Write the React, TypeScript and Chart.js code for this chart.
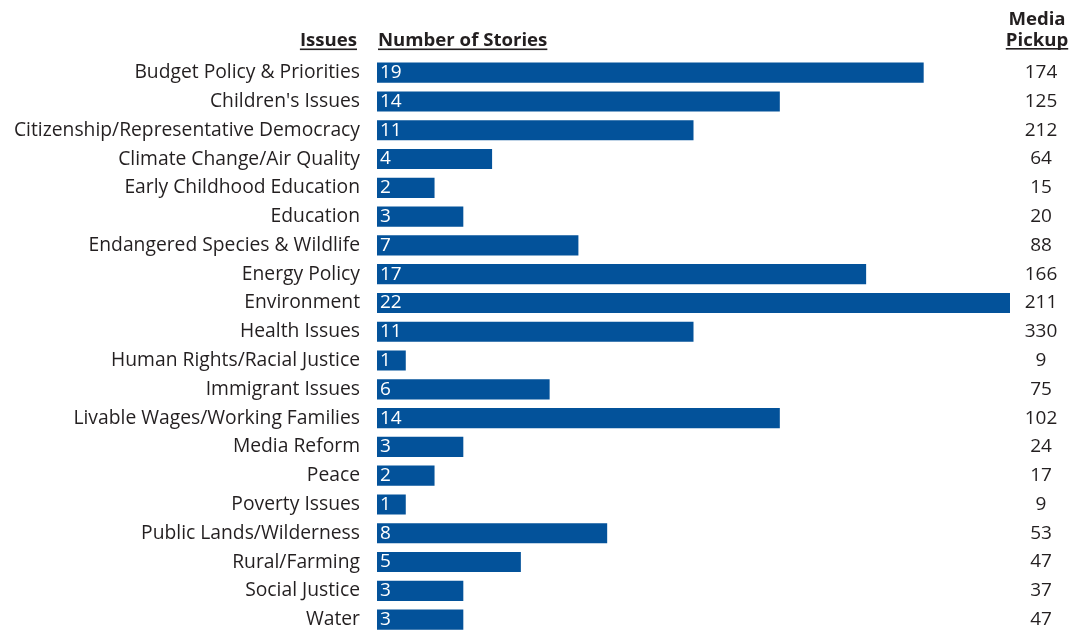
import React, { useEffect, useRef } from "react";
import { Chart, registerables } from "chart.js";

Chart.register(...registerables);

const issues = [
  "Budget Policy & Priorities",
  "Children's Issues",
  "Citizenship/Representative Democracy",
  "Climate Change/Air Quality",
  "Early Childhood Education",
  "Education",
  "Endangered Species & Wildlife",
  "Energy Policy",
  "Environment",
  "Health Issues",
  "Human Rights/Racial Justice",
  "Immigrant Issues",
  "Livable Wages/Working Families",
  "Media Reform",
  "Peace",
  "Poverty Issues",
  "Public Lands/Wilderness",
  "Rural/Farming",
  "Social Justice",
  "Water",
];
const stories = [19, 14, 11, 4, 2, 3, 7, 17, 22, 11, 1, 6, 14, 3, 2, 1, 8, 5, 3, 3];
const mediaPickup = [174, 125, 212, 64, 15, 20, 88, 166, 211, 330, 9, 75, 102, 24, 17, 9, 53, 47, 37, 47];

const FONT = "'Open Sans', 'Noto Sans', sans-serif";
const TEXT = "#231f20";
const BAR = "#03529a";

export default function App() {
  const ref = useRef<HTMLCanvasElement | null>(null);

  useEffect(() => {
    document.documentElement.style.overflow = "hidden";
    document.body.style.overflow = "hidden";
    const canvas = ref.current;
    if (!canvas) return;

    const overlay = {
      id: "overlay",
      afterDatasetsDraw(chart: any) {
        const ctx = chart.ctx;
        const meta = chart.getDatasetMeta(0);
        const xs = chart.scales.x;
        ctx.save();
        // bar value labels and media pickup column
        ctx.font = `19px ${FONT}`;
        ctx.textBaseline = "middle";
        meta.data.forEach((bar: any, i: number) => {
          ctx.fillStyle = "#ffffff";
          ctx.textAlign = "left";
          ctx.fillText(String(stories[i]), xs.getPixelForValue(0) + 3, bar.y);
          ctx.fillStyle = TEXT;
          ctx.textAlign = "center";
          ctx.fillText(String(mediaPickup[i]), 1041, bar.y);
        });
        // headers
        ctx.font = `bold 18.6px ${FONT}`;
        ctx.fillStyle = TEXT;
        ctx.textBaseline = "alphabetic";
        const underline = (text: string, x: number, y: number, align: CanvasTextAlign) => {
          ctx.textAlign = align;
          ctx.fillText(text, x, y);
          const w = ctx.measureText(text).width;
          let x0 = x;
          if (align === "right") x0 = x - w;
          else if (align === "center") x0 = x - w / 2;
          ctx.fillRect(x0, y + 2.5, w, 1.6);
        };
        underline("Issues", 357, 46, "right");
        underline("Number of Stories", 378, 46, "left");
        ctx.textAlign = "center";
        ctx.fillText("Media", 1037, 25);
        underline("Pickup", 1037, 45.5, "center");
        ctx.restore();
      },
    };

    const chart = new Chart(canvas, {
      type: "bar",
      data: {
        labels: issues,
        datasets: [
          {
            data: stories,
            backgroundColor: BAR,
            borderWidth: 0,
            barPercentage: 0.7,
            categoryPercentage: 1,
          },
        ],
      },
      options: {
        indexAxis: "y",
        animation: false,
        responsive: false,
        maintainAspectRatio: false,
        layout: { padding: { top: 58.3, right: 60, bottom: 0, left: 0 } },
        plugins: {
          legend: { display: false },
          tooltip: { enabled: false },
        },
        scales: {
          x: {
            display: false,
            min: 0,
            max: 22,
          },
          y: {
            grid: { display: false, drawTicks: false },
            border: { display: false },
            ticks: {
              color: TEXT,
              font: { family: FONT, size: 19.3 },
              padding: 17,
              autoSkip: false,
            },
            afterFit(scale: any) {
              scale.width = 377;
              scale.paddingTop = 0;
              scale.paddingBottom = 0;
            },
          },
        },
      },
      plugins: [overlay],
    });

    return () => chart.destroy();
  }, []);

  return (
    <div style={{ position: "absolute", left: 0, top: 0, width: 1070, height: 634.4 }}>
      <canvas ref={ref} width={1070} height={634} style={{ display: "block" }} />
    </div>
  );
}
